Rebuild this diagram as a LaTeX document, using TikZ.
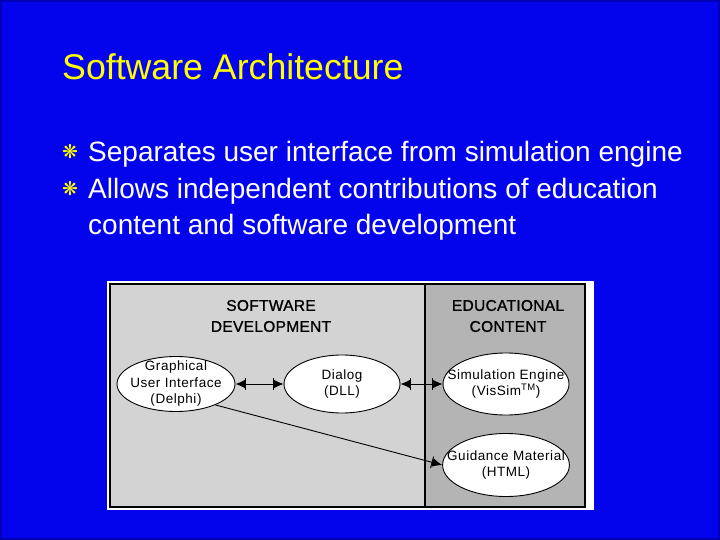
\documentclass[tikz,border=0pt]{standalone}
\usepackage{fontspec}
\setmainfont{Liberation Sans}
\newfontfamily\boxfont[LetterSpace=4]{Liberation Sans}
\newfontfamily\headfont[LetterSpace=2,FakeBold=1.2]{Liberation Sans}
\newfontfamily\symfont{DejaVu Sans}
\usetikzlibrary{shapes.geometric,arrows.meta}
\definecolor{slideblue}{RGB}{4,4,236}
\definecolor{slideyellow}{RGB}{255,255,0}
\definecolor{devgray}{RGB}{211,211,211}
\definecolor{edugray}{RGB}{180,180,180}
\tikzset{
  proc/.style={ellipse, draw=black, line width=0.9pt, fill=white, align=center, inner xsep=-14pt, inner ysep=-6pt,
    font=\boxfont\fontsize{13.5}{16.5}\selectfont},
  head/.style={align=center, font=\headfont\fontsize{15.5}{21}\selectfont},
  bullet/.style={anchor=base west, text=white, inner sep=0pt, font=\fontsize{28}{34}\selectfont},
  dot/.style={text=slideyellow, inner sep=0pt, font=\symfont\fontsize{19}{19}\selectfont},
  both/.style={{Latex[length=10pt,width=9pt]Bar[width=12pt,sep=0pt]}-{Bar[width=12pt,sep=0pt]Latex[length=10pt,width=9pt]}},
  one/.style={-{Bar[width=12pt,sep=0pt]Latex[length=10pt,width=9pt]}}
}
\begin{document}
\begin{tikzpicture}[x=1pt,y=-1pt]
  \fill[slideblue] (0,0) rectangle (720,540);
  \draw[blue!70!black, line width=2pt] (1,1) rectangle (719,539);
  \node[anchor=base west, text=slideyellow, inner sep=0pt, font=\fontsize{35.7}{40}\selectfont] (title) at (62,80) {Software Architecture};
  \node[dot] (d1) at (70,152) {❋};
  \node[bullet] (b1) at (88,162) {Separates user interface from simulation engine};
  \node[dot] (d2) at (70,189) {❋};
  \node[bullet] (b2) at (88,199) {Allows independent contributions of education};
  \node[bullet] (b3) at (88,235) {content and software development};
  \fill[white] (107,281) rectangle (594,510);
  \fill[devgray] (110,284) rectangle (425,507);
  \fill[edugray] (425,284) rectangle (585,507);
  \draw[line width=1.2pt] (110,284) rectangle (585,507);
  \draw[line width=2pt] (425,284) -- (425,507);
  \node[head] (sw) at (271,316) {SOFTWARE\\DEVELOPMENT};
  \node[head] (edu) at (508,316) {EDUCATIONAL\\CONTENT};
  \node[proc, minimum width=118pt, minimum height=55pt] (gui) at (176,384) {Graphical\\User Interface\\(Delphi)};
  \node[proc, minimum width=116pt, minimum height=58pt] (dialog) at (342,384) {Dialog\\(DLL)};
  \node[proc, minimum width=126pt, minimum height=62pt] (simeng) at (506,384) {Simulation Engine\\(VisSim\textsuperscript{TM})};
  \node[proc, minimum width=126pt, minimum height=63pt] (guide) at (506,465) {Guidance Material\\(HTML)};
  \begin{scope}[line width=0.9pt]
    \draw[both] (gui) -- (dialog);
    \draw[both] (dialog) -- (simeng);
    \draw[one] (gui.-28) -- (guide.west);
  \end{scope}
\end{tikzpicture}
\end{document}
